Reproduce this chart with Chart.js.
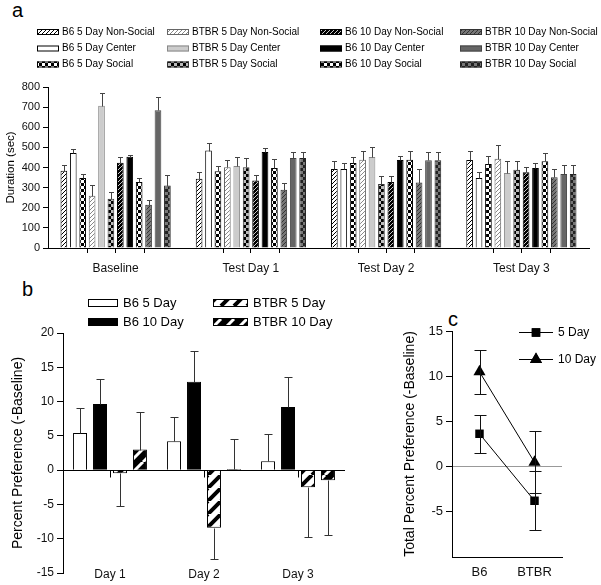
<!DOCTYPE html>
<html lang="en">
<head>
<meta charset="UTF-8">
<title>Social preference durations</title>
<style>
body { margin: 0; background: #fff; }
#page { position: relative; width: 601px; height: 585px; font-family: "Liberation Sans", Arial, sans-serif; }
#page canvas { position: absolute; }
.tag { position: absolute; font-size: 20px; line-height: 20px; color: #000; }
</style>
</head>
<body>
<div id="page">
<div class="tag" style="left:12px;top:0px">a</div>
<div class="tag" style="left:22px;top:279px">b</div>
<div class="tag" style="left:448px;top:309px">c</div>
<canvas id="chartA" width="601" height="280" style="left:0;top:0"></canvas>
<canvas id="chartB" width="360" height="305" style="left:0;top:280px"></canvas>
<canvas id="chartC" width="201" height="295" style="left:400px;top:290px"></canvas>
</div>
<script src="https://cdn.jsdelivr.net/npm/chart.js@4/dist/chart.umd.min.js"></script>
<script>
// panel a: duration per chamber, 12 series in each of 4 sessions
var sessions = ['Baseline', 'Test Day 1', 'Test Day 2', 'Test Day 3'];
var seriesNames = [
  'B6 5 Day Non-Social', 'B6 5 Day Center', 'B6 5 Day Social',
  'BTBR 5 Day Non-Social', 'BTBR 5 Day Center', 'BTBR 5 Day Social',
  'B6 10 Day Non-Social', 'B6 10 Day Center', 'B6 10 Day Social',
  'BTBR 10 Day Non-Social', 'BTBR 10 Day Center', 'BTBR 10 Day Social'
];
var baselineMean = [384, 472, 348, 260, 707, 245, 424, 454, 328, 215, 684, 310];
var baselineErr  = [30, 18, 20, 55, 63, 33, 30, 10, 20, 25, 66, 54];
var day1Mean = [344, 484, 381, 401, 407, 401, 335, 477, 397, 290, 447, 447];
var day1Err  = [34, 38, 28, 35, 43, 46, 26, 21, 43, 33, 30, 30];
var day2Mean = [393, 393, 422, 439, 452, 318, 328, 437, 439, 325, 436, 436];
var day2Err  = [38, 28, 28, 45, 50, 41, 30, 20, 43, 66, 39, 39];
var day3Mean = [437, 348, 417, 444, 373, 389, 376, 397, 431, 351, 368, 368];
var day3Err  = [45, 28, 38, 66, 58, 45, 26, 24, 39, 40, 46, 46];
var durTicks = [0, 100, 200, 300, 400, 500, 600, 700, 800];

// panel b: percent preference minus baseline
var days = ['Day 1', 'Day 2', 'Day 3'];
var b6Five = [5.4, 4.2, 1.3];
var b6FiveErr = [3.6, 3.6, 4.0];
var b6Ten = [9.65, 12.9, 9.2];
var b6TenErr = [3.6, 4.5, 4.45];
var btbrFive = [-0.45, -8.4, -2.5];
var btbrFiveErr = [4.8, 4.5, 7.25];
var btbrTen = [3.0, 0.15, -1.46];
var btbrTenErr = [5.5, 4.45, 8.0];

// panel c: total percent preference
var strains = ['B6', 'BTBR'];
var totalFive = [3.63, -3.78];
var totalFiveErr = [2.1, 3.25];
var totalTen = [10.48, 0.48];
var totalTenErr = [2.4, 3.45];

Chart.defaults.font.family = '"Liberation Sans", Arial, sans-serif';
Chart.defaults.color = '#000';

function hatch(bg, fg, size, lw) {
  var c = document.createElement('canvas');
  c.width = size; c.height = size;
  var g = c.getContext('2d');
  g.fillStyle = bg; g.fillRect(0, 0, size, size);
  g.strokeStyle = fg; g.lineWidth = lw;
  g.beginPath();
  [-size, 0, size].forEach(function(k) {
    g.moveTo(k, size); g.lineTo(k + size, 0);
  });
  g.stroke();
  return g.createPattern(c, 'repeat');
}

function checker(c1, c2, s) {
  var c = document.createElement('canvas');
  c.width = s * 2; c.height = s * 2;
  var g = c.getContext('2d');
  g.fillStyle = c2; g.fillRect(0, 0, s * 2, s * 2);
  g.fillStyle = c1; g.fillRect(0, 0, s, s); g.fillRect(s, s, s, s);
  return g.createPattern(c, 'repeat');
}

// draws mean +/- sem whiskers on top of the datasets
var errorBars = {
  id: 'errorBars',
  afterDatasetsDraw: function(chart, args, opts) {
    var ctx = chart.ctx, y = chart.scales.y;
    ctx.save();
    ctx.strokeStyle = opts.color;
    ctx.lineWidth = 1;
    chart.data.datasets.forEach(function(ds, i) {
      if (!ds.errors) return;
      chart.getDatasetMeta(i).data.forEach(function(el, j) {
        var v = ds.data[j], e = ds.errors[j];
        var hi = v + e, lo = v - e;
        if (opts.mode === 'out') {
          if (v >= 0) lo = v; else hi = v;
        }
        var x = Math.round(el.x) + 0.5;
        var yHi = Math.round(y.getPixelForValue(hi)) + 0.5;
        var yLo = Math.round(y.getPixelForValue(lo)) + 0.5;
        var c = opts.cap / 2;
        ctx.beginPath();
        ctx.moveTo(x, yHi); ctx.lineTo(x, yLo);
        if (hi !== v) { ctx.moveTo(x - c, yHi); ctx.lineTo(x + c, yHi); }
        if (lo !== v) { ctx.moveTo(x - c, yLo); ctx.lineTo(x + c, yLo); }
        ctx.stroke();
      });
    });
    ctx.restore();
  }
};

// ---------- panel a ----------
var fillsA = [
  hatch('#fff', '#000', 4, 1), '#fff', checker('#000', '#fff', 3),
  hatch('#fff', '#888', 4, 1), '#ccc', checker('#000', '#bbb', 3),
  hatch('#000', '#fff', 4, 0.8), '#000', checker('#000', '#fff', 3),
  hatch('#777', '#333', 4, 1), '#666', checker('#222', '#777', 3)
];
var edgesA = ['#000', '#000', '#000', '#666', '#888', '#333', '#000', '#000', '#000', '#333', '#444', '#222'];
var meansBySession = [baselineMean, day1Mean, day2Mean, day3Mean];
var errsBySession = [baselineErr, day1Err, day2Err, day3Err];

var dsA = seriesNames.map(function(name, i) {
  return {
    label: name,
    data: meansBySession.map(function(m) { return m[i]; }),
    errors: errsBySession.map(function(e) { return e[i]; }),
    backgroundColor: fillsA[i],
    borderColor: edgesA[i],
    borderWidth: 1,
    categoryPercentage: 0.835,
    barPercentage: 0.71
  };
});

var legendA = {
  id: 'legendA',
  afterDraw: function(chart) {
    var ctx = chart.ctx;
    var cols = [37, 167, 320, 460], rows = [32, 48.5, 64.5];
    ctx.save();
    ctx.font = '10px "Liberation Sans", Arial, sans-serif';
    ctx.textBaseline = 'middle';
    chart.data.datasets.forEach(function(ds, i) {
      var x = cols[Math.floor(i / 3)], y = rows[i % 3];
      ctx.fillStyle = ds.backgroundColor;
      ctx.fillRect(x, y - 3, 22, 6);
      ctx.strokeStyle = ds.borderColor;
      ctx.lineWidth = 1;
      ctx.strokeRect(x + 0.5, y - 2.5, 21, 5);
      ctx.fillStyle = '#000';
      ctx.fillText(ds.label, x + 25, y);
    });
    ctx.restore();
  }
};

// small ticks splitting each session into the four strain/day blocks
var blockTicks = {
  id: 'blockTicks',
  afterDraw: function(chart) {
    var ctx = chart.ctx, b = chart.chartArea.bottom;
    var m2 = chart.getDatasetMeta(2).data, m3 = chart.getDatasetMeta(3).data;
    var m8 = chart.getDatasetMeta(8).data, m9 = chart.getDatasetMeta(9).data;
    ctx.save();
    ctx.strokeStyle = '#000';
    ctx.lineWidth = 1;
    ctx.beginPath();
    for (var j = 0; j < m2.length; j++) {
      [(m2[j].x + m3[j].x) / 2, (m8[j].x + m9[j].x) / 2].forEach(function(x) {
        x = Math.round(x) + 0.5;
        ctx.moveTo(x, b); ctx.lineTo(x, b + 5);
      });
    }
    ctx.stroke();
    ctx.restore();
  }
};

new Chart(document.getElementById('chartA'), {
  type: 'bar',
  data: { labels: sessions, datasets: dsA },
  plugins: [errorBars, legendA, blockTicks],
  options: {
    responsive: false,
    animation: false,
    layout: { padding: { top: 87, right: 12, left: 0, bottom: 0 } },
    plugins: {
      legend: { display: false },
      tooltip: { enabled: false },
      errorBars: { color: '#444', cap: 5, mode: 'out' }
    },
    scales: {
      x: {
        afterFit: function(s) { s.height = 32; },
        border: { color: '#000' },
        grid: { offset: false, drawOnChartArea: false, tickLength: 5, color: '#000' },
        ticks: { font: { size: 12 }, padding: 8, color: '#111' }
      },
      y: {
        min: 0, max: 800,
        afterFit: function(s) { s.width = 48; },
        afterBuildTicks: function(s) { s.ticks = durTicks.map(function(v) { return { value: v }; }); },
        border: { color: '#000' },
        grid: { drawOnChartArea: false, tickLength: 5, color: '#000' },
        ticks: { font: { size: 11 }, padding: 3, color: '#111' },
        title: { display: true, text: 'Duration (sec)', font: { size: 11.5 }, padding: { top: 4, bottom: 2 } }
      }
    }
  }
});

// ---------- panel b ----------
var dsB = [
  { label: 'B6 5 Day', data: b6Five, errors: b6FiveErr, backgroundColor: '#fff' },
  { label: 'B6 10 Day', data: b6Ten, errors: b6TenErr, backgroundColor: '#000' },
  { label: 'BTBR 5 Day', data: btbrFive, errors: btbrFiveErr, backgroundColor: hatch('#fff', '#000', 13, 4) },
  { label: 'BTBR 10 Day', data: btbrTen, errors: btbrTenErr, backgroundColor: hatch('#000', '#fff', 13, 3) }
].map(function(d) {
  d.borderColor = '#000';
  d.borderWidth = 1;
  d.categoryPercentage = 0.85;
  d.barPercentage = 0.7;
  return d;
});

var legendB = {
  id: 'legendB',
  afterDraw: function(chart) {
    var ctx = chart.ctx;
    var spots = [[88, 23], [88, 42], [213, 23], [213, 42]];
    var widths = [30, 30, 35, 35];
    ctx.save();
    ctx.font = '13px "Liberation Sans", Arial, sans-serif';
    ctx.textBaseline = 'middle';
    chart.data.datasets.forEach(function(ds, i) {
      var x = spots[i][0], y = spots[i][1], w = widths[i];
      ctx.fillStyle = ds.backgroundColor;
      ctx.fillRect(x, y - 4, w, 8);
      ctx.strokeStyle = '#000';
      ctx.lineWidth = 1;
      ctx.strokeRect(x + 0.5, y - 3.5, w - 1, 7);
      ctx.fillStyle = '#000';
      ctx.fillText(ds.label, x + w + 5, y);
    });
    ctx.restore();
  }
};

// ticks hanging from the zero line at each day, day names beside the axis foot
var dayAxis = {
  id: 'dayAxis',
  afterDraw: function(chart) {
    var ctx = chart.ctx, xs = chart.scales.x;
    var y0 = Math.round(chart.scales.y.getPixelForValue(0)) + 0.5;
    ctx.save();
    ctx.strokeStyle = '#000';
    ctx.beginPath();
    chart.data.labels.forEach(function(l, i) {
      var x = Math.round(xs.getPixelForValue(i)) + 0.5;
      ctx.moveTo(x, y0); ctx.lineTo(x, y0 + 7);
    });
    ctx.stroke();
    ctx.font = '12px "Liberation Sans", Arial, sans-serif';
    ctx.fillStyle = '#111';
    ctx.textAlign = 'center';
    ctx.textBaseline = 'middle';
    chart.data.labels.forEach(function(l, i) {
      ctx.fillText(l, xs.getPixelForValue(i), chart.chartArea.bottom + 2);
    });
    ctx.restore();
  }
};

new Chart(document.getElementById('chartB'), {
  type: 'bar',
  data: { labels: days, datasets: dsB },
  plugins: [errorBars, legendB, dayAxis],
  options: {
    responsive: false,
    animation: false,
    layout: { padding: { top: 53, right: 15, left: 0, bottom: 0 } },
    plugins: {
      legend: { display: false },
      tooltip: { enabled: false },
      errorBars: { color: '#333', cap: 8, mode: 'out' }
    },
    scales: {
      x: {
        afterFit: function(s) { s.height = 12; },
        border: { display: false },
        grid: { display: false, drawTicks: false },
        ticks: { display: false }
      },
      y: {
        min: -15, max: 20,
        afterFit: function(s) { s.width = 63; },
        border: { color: '#000' },
        grid: {
          color: function(c) { return c.tick && c.tick.value === 0 ? '#000' : 'rgba(0,0,0,0)'; },
          tickColor: '#000', tickLength: 6
        },
        ticks: { stepSize: 5, font: { size: 12 }, padding: 3, color: '#111' },
        title: { display: true, text: 'Percent Preference (-Baseline)', font: { size: 14 }, padding: { top: 10, bottom: 2 } }
      }
    }
  }
});

// ---------- panel c ----------
var legendC = {
  id: 'legendC',
  afterDraw: function(chart) {
    var ctx = chart.ctx;
    var rows = [42, 69];
    ctx.save();
    ctx.font = '12px "Liberation Sans", Arial, sans-serif';
    ctx.textBaseline = 'middle';
    chart.data.datasets.forEach(function(ds, i) {
      var y = rows[i] + 0.5;
      ctx.strokeStyle = '#000';
      ctx.lineWidth = 1;
      ctx.beginPath();
      ctx.moveTo(119, y); ctx.lineTo(153, y);
      ctx.stroke();
      Chart.helpers.drawPoint(ctx, { pointStyle: ds.pointStyle, radius: ds.pointRadius, borderWidth: 0 }, 136, y);
      ctx.fillStyle = '#000';
      ctx.fill();
      ctx.fillText(ds.label, 158, y);
    });
    ctx.restore();
  }
};

new Chart(document.getElementById('chartC'), {
  type: 'line',
  data: {
    labels: strains,
    datasets: [
      { label: '5 Day', data: totalFive, errors: totalFiveErr, pointStyle: 'rect', pointRadius: 6 },
      { label: '10 Day', data: totalTen, errors: totalTenErr, pointStyle: 'triangle', pointRadius: 7 }
    ].map(function(d) {
      d.borderColor = '#000';
      d.backgroundColor = '#000';
      d.borderWidth = 1;
      d.pointBorderWidth = 0;
      return d;
    })
  },
  plugins: [errorBars, legendC],
  options: {
    responsive: false,
    animation: false,
    layout: { padding: { top: 41, right: 39, left: 0, bottom: 0 } },
    plugins: {
      legend: { display: false },
      tooltip: { enabled: false },
      errorBars: { color: '#111', cap: 12, mode: 'both' }
    },
    scales: {
      x: {
        offset: true,
        afterFit: function(s) { s.height = 28; },
        border: { color: '#000' },
        grid: { display: false, drawTicks: false },
        ticks: { font: { size: 13 }, padding: 8, color: '#111' }
      },
      y: {
        min: -10, max: 15,
        afterFit: function(s) { s.width = 52; },
        border: { color: '#000' },
        grid: {
          color: function(c) { return c.tick && c.tick.value === 0 ? '#999' : 'rgba(0,0,0,0)'; },
          tickColor: function(c) { return c.tick && c.tick.value === -10 ? 'rgba(0,0,0,0)' : '#000'; },
          tickLength: 6
        },
        ticks: {
          stepSize: 5, font: { size: 13 }, padding: 3, color: '#111',
          callback: function(v) { return v === -10 ? '' : v; }
        },
        title: { display: true, text: 'Total Percent Preference (-Baseline)', font: { size: 14 }, padding: { top: 2, bottom: 2 } }
      }
    }
  }
});
</script>
</body>
</html>
